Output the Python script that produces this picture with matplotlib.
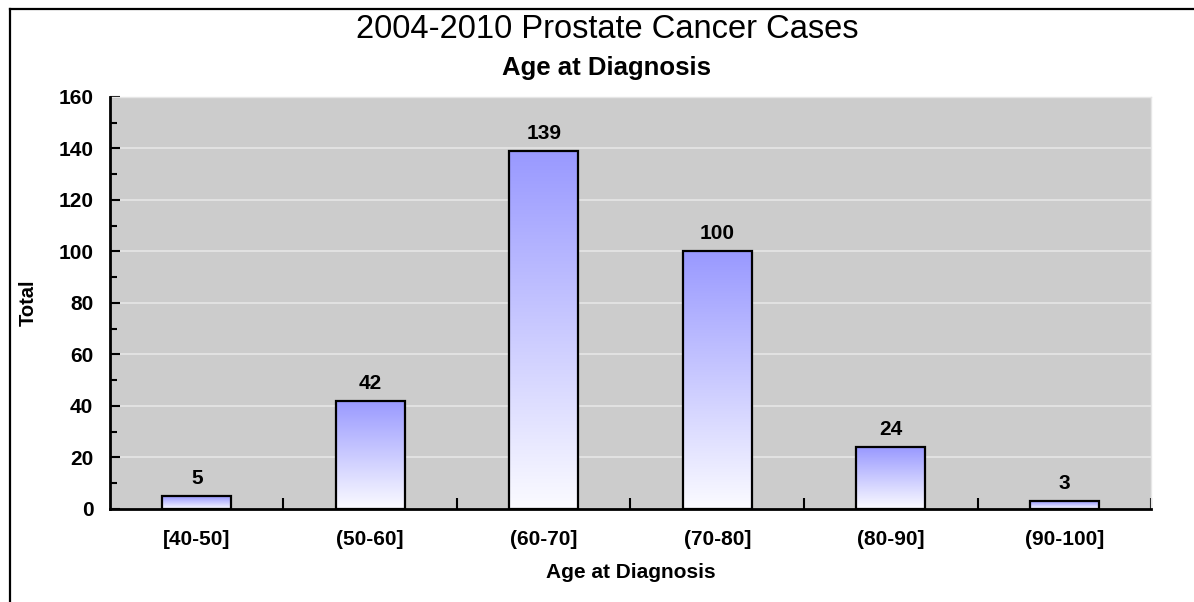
import matplotlib
matplotlib.use("Agg")
import matplotlib.pyplot as plt
import numpy as np
from matplotlib.colors import LinearSegmentedColormap
from matplotlib.lines import Line2D

age_groups = ['[40-50]', '(50-60]', '(60-70]', '(70-80]', '(80-90]', '(90-100]']
cases = [5, 42, 139, 100, 24, 3]

plt.rcParams['font.family'] = ['Liberation Sans', 'DejaVu Sans']

fig = plt.figure(figsize=(11.94, 6.02), dpi=100)
ax = fig.add_axes([0.0921, 0.1545, 0.8719, 0.6844])
ax.set_facecolor('#cccccc')

# vertical gradient for the bars, light at the bottom, blue at the top
grad_cmap = LinearSegmentedColormap.from_list('barfade', ['#fbfbff', '#9999ff'])
grad = np.linspace(0, 1, 256).reshape(-1, 1)

x = np.arange(len(age_groups))
width = 0.4
bars = ax.bar(x, cases, width=width, facecolor='none', edgecolor='black',
              linewidth=1.6, zorder=3)
for rect in bars:
    x0, y0 = rect.get_x(), rect.get_y()
    ax.imshow(grad, cmap=grad_cmap, origin='lower', aspect='auto',
              extent=[x0, x0 + rect.get_width(), y0, y0 + rect.get_height()],
              zorder=2)

for xi, v in zip(x, cases):
    ax.annotate(str(v), (xi, v), xytext=(0, 6), textcoords='offset points',
                ha='center', va='bottom', fontsize=15, fontweight='bold')

ax.set_xlim(-0.5, len(age_groups) - 0.5)
ax.set_ylim(0, 160)

# gridlines at the major y ticks
for yv in range(20, 161, 20):
    ax.axhline(yv, color='#e2e2e2', linewidth=1.4, zorder=1)

ax.set_yticks(range(0, 161, 20))
ax.set_yticks(range(0, 161, 10), minor=True)
ax.tick_params(axis='y', which='major', direction='in', length=7.5, width=1.5,
               pad=12, labelsize=15)
ax.tick_params(axis='y', which='minor', direction='in', length=5, width=1.5)
for lab in ax.get_yticklabels():
    lab.set_fontweight('bold')

# x ticks at the bin boundaries, labels centred under the bars
ax.set_xticks(np.arange(0.5, len(age_groups), 1.0))
ax.set_xticklabels([])
ax.set_xticks(x, minor=True)
ax.set_xticklabels(age_groups, minor=True, fontsize=15, fontweight='bold')
ax.tick_params(axis='x', which='major', direction='in', length=8, width=1.5)
ax.tick_params(axis='x', which='minor', length=0, pad=15)

for side in ['top', 'right']:
    ax.spines[side].set_color('#e6e6e6')
    ax.spines[side].set_linewidth(1)
for side in ['left', 'bottom']:
    ax.spines[side].set_linewidth(2)
    ax.spines[side].set_zorder(4)

ax.set_ylabel('Total', fontsize=14.5, fontweight='bold', va='center')
ax.yaxis.set_label_coords(-0.0788, 0.5)
ax.set_xlabel('Age at Diagnosis', fontsize=15, fontweight='bold', va='center')
ax.xaxis.set_label_coords(0.5, -0.155)

fig.text(607 / 1194, 1 - 30 / 602, '2004-2010 Prostate Cancer Cases',
         ha='center', va='center', fontsize=23.5)
fig.text(607 / 1194, 1 - 68 / 602, 'Age at Diagnosis',
         ha='center', va='center', fontsize=18.5, fontweight='bold')

# outer frame (top and left edges)
fig.add_artist(Line2D([9.5 / 1194, 1], [1 - 9 / 602, 1 - 9 / 602],
                      transform=fig.transFigure, color='black', linewidth=1.6))
fig.add_artist(Line2D([9.5 / 1194, 9.5 / 1194], [0, 1 - 9 / 602],
                      transform=fig.transFigure, color='black', linewidth=1.6))

fig.savefig('out.png', dpi=100)
